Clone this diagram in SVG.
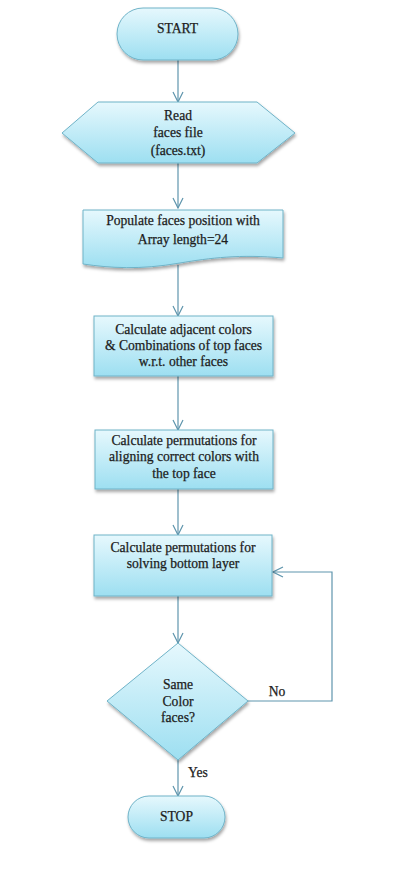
<svg xmlns="http://www.w3.org/2000/svg" width="403" height="896" viewBox="0 0 403 896">
<style>
.shape{fill:url(#g);stroke:#6fb3c8;stroke-width:1;filter:url(#sh)}
.t{font-family:"Liberation Serif","DejaVu Serif",serif;font-size:13.6px;fill:#1c1c1c;stroke:#1c1c1c;stroke-width:0.25;text-anchor:middle}
.c{fill:none;stroke:#5f95ad;stroke-width:1.2;marker-end:url(#ah)}
</style>
<defs>
<linearGradient id="g" x1="0" y1="0" x2="0" y2="1">
<stop offset="0" stop-color="#e6f8fd"/>
<stop offset="1" stop-color="#9ddff1"/>
</linearGradient>
<filter id="sh" x="-10%" y="-10%" width="130%" height="140%">
<feDropShadow dx="1" dy="2.5" stdDeviation="1.5" flood-color="#000" flood-opacity="0.35"/>
</filter>
<marker id="ah" viewBox="0 0 12 12" refX="11" refY="6" markerWidth="12" markerHeight="12" markerUnits="userSpaceOnUse" orient="auto">
<path d="M1,1 L11,6 L1,11" fill="none" stroke="#5f95ad" stroke-width="1.2"/>
</marker>
</defs>
<rect width="403" height="896" fill="#fff"/>
<g id="connectors">
<path class="c" d="M178,60 V102"/>
<path class="c" d="M178,163 V208"/>
<path class="c" d="M178,265 V316"/>
<path class="c" d="M178,376 V430"/>
<path class="c" d="M178,489 V535"/>
<path class="c" d="M178,596 V643"/>
<path class="c" d="M178,760 V796"/>
<path class="c" d="M248,701 H332 V572 H273"/>
<text class="t" x="277" y="696">No</text>
<text class="t" x="198" y="777">Yes</text>
</g>
<g id="start">
<rect class="shape" x="117" y="8" width="121" height="52" rx="26"/>
<text class="t" x="177.5" y="33">START</text>
</g>
<g id="read">
<path class="shape" d="M62,133 L98,102 H257 L295,133 L257,163 H98 Z"/>
<text class="t" x="178" y="120">Read</text>
<text class="t" x="178" y="137">faces file</text>
<text class="t" x="178" y="155">(faces.txt)</text>
</g>
<g id="populate">
<path class="shape" d="M83,210 H283 V258 C240,254 210,258 180,263 C140,270 110,268 83,264 Z"/>
<text class="t" x="183" y="225">Populate faces position with</text>
<text class="t" x="183" y="244">Array length=24</text>
</g>
<g id="adjacent">
<rect class="shape" x="94" y="316" width="179" height="60"/>
<text class="t" x="183.5" y="334">Calculate adjacent colors</text>
<text class="t" x="183.5" y="350">&amp; Combinations of top faces</text>
<text class="t" x="183.5" y="366">w.r.t. other faces</text>
</g>
<g id="aligning">
<rect class="shape" x="95" y="430" width="178" height="59"/>
<text class="t" x="184" y="445">Calculate permutations for</text>
<text class="t" x="184" y="461">aligning correct colors with</text>
<text class="t" x="184" y="478">the top face</text>
</g>
<g id="bottom">
<rect class="shape" x="94" y="535" width="178" height="61"/>
<text class="t" x="183" y="552">Calculate permutations for</text>
<text class="t" x="183" y="568">solving bottom layer</text>
</g>
<g id="decision">
<path class="shape" d="M178,643 L248,701 L178,760 L107,701 Z"/>
<text class="t" x="178" y="689">Same</text>
<text class="t" x="178" y="706">Color</text>
<text class="t" x="178" y="722">faces?</text>
</g>
<g id="stop">
<rect class="shape" x="128" y="796" width="97" height="42" rx="21"/>
<text class="t" x="176.5" y="821">STOP</text>
</g>
</svg>
